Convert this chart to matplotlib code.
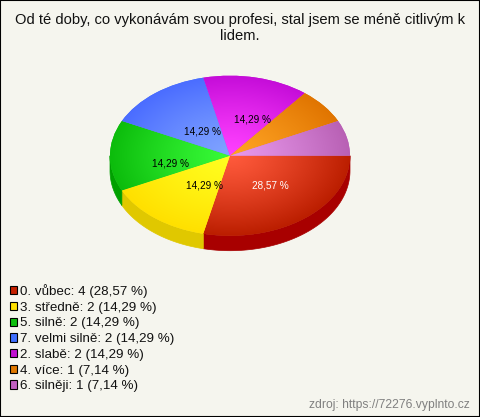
import numpy as np
import matplotlib
matplotlib.use("Agg")
import matplotlib.pyplot as plt
from matplotlib.patches import Patch, Polygon, Rectangle
from matplotlib.colors import to_rgb

title = "Od té doby, co vykonávám svou profesi, stal jsem se méně citlivým k\nlidem."
source = "zdroj: https://72276.vyplnto.cz"
categories = ["0. vůbec", "3. středně", "5. silně", "7. velmi silně", "2. slabě", "4. více", "6. silněji"]
counts = [4, 2, 2, 2, 2, 1, 1]
percent_labels = ["28,57 %", "14,29 %", "14,29 %", "14,29 %", "14,29 %", "7,14 %", "7,14 %"]
base_colors = ["#c42000", "#ffe000", "#10c010", "#4070ff", "#c010d0", "#e07800", "#c060c0"]
inner_colors = ["#ff5a3c", "#ffff20", "#38fb38", "#80a4ff", "#ff40ff", "#ffa424", "#e898ec"]
outer_colors = ["#bb1e00", "#ffe000", "#0cbc0c", "#4a6cff", "#c40cd8", "#e07400", "#b860b4"]
side_colors = ["#a80000", "#e0c800", "#00a000", "#2040c0", "#900090", "#a05000", "#904090"]
label_colors = ["white", "black", "black", "black", "black", None, None]
label_pos_px = [(270.5, 186), (204, 186), (170, 164), (203, 131.5), (253, 119), None, None]

W, H = 480, 417
CX, CY, RX, RY, DEPTH = 230, 155.7, 120, 80, 15
BG = "#f5f5ee"

fig = plt.figure(figsize=(W / 100, H / 100), dpi=100, facecolor=BG)
plt.rcParams["font.family"] = ["Liberation Sans", "DejaVu Sans"]
ax = fig.add_axes([0, 0, 1, 1])

wedges, _ = ax.pie(counts, colors=base_colors, startangle=0, counterclock=False, radius=1, center=(0, 0))
ax.set_aspect("auto")
ax.axis("off")

# side wall of the pie (front half only)
d = DEPTH / RY
fractions = np.array(counts, dtype=float) / sum(counts)
ends = np.cumsum(fractions) * 360
starts = ends - fractions * 360
for s, e, col in zip(starts, ends, side_colors):
    a, b = s, min(e, 180)
    if a >= 180:
        continue
    t = np.radians(np.linspace(a, b, 80))
    x, y = np.cos(t), -np.sin(t)
    pts = np.r_[np.c_[x, y], np.c_[x[::-1], y[::-1] - d]]
    ax.add_patch(Polygon(pts, closed=True, fc=col, ec=col, lw=0.5, zorder=0.5))

# radial shading of the top face, clipped to each wedge
gx, gy = np.meshgrid(np.linspace(-1.02, 1.02, 500), np.linspace(-1.02, 1.02, 500))
rad = (np.clip(np.hypot(gx, gy), 0, 1) ** 1.2)[..., None]
for w, ci, co in zip(wedges, inner_colors, outer_colors):
    w.set_zorder(1)
    w.set_edgecolor("none")
    img = np.array(to_rgb(ci)) * (1 - rad) + np.array(to_rgb(co)) * rad
    im = ax.imshow(img, extent=(-1.02, 1.02, -1.02, 1.02), origin="lower", aspect="auto",
                   interpolation="bilinear", zorder=1.5)
    im.set_clip_path(w)
ax.set_xlim(-CX / RX, (W - CX) / RX)
ax.set_ylim((CY - H) / RY, CY / RY)

for lab, col, pos in zip(percent_labels, label_colors, label_pos_px):
    if pos is None:
        continue
    fig.text(pos[0] / W, 1 - pos[1] / H, lab, color=col, fontsize=7.2, ha="center", va="center", zorder=5)

fig.text(240 / W, 1 - 20 / H, title.split("\n")[0], ha="center", va="center", fontsize=10.6, color="#111111")
fig.text(240 / W, 1 - 35.5 / H, title.split("\n")[1], ha="center", va="center", fontsize=10.6, color="#111111")

handles = [Patch(facecolor=c, edgecolor="black", linewidth=0.8) for c in base_colors]
labels = [f"{c}: {n} ({p})" for c, n, p in zip(categories, counts, percent_labels)]
leg = fig.legend(handles, labels, loc="upper left", bbox_to_anchor=(9.5 / W, 1 - 284 / H),
                 frameon=False, fontsize=9.6, handlelength=0.58, handleheight=0.58,
                 handletextpad=0.2, labelspacing=0.28, borderpad=0, borderaxespad=0)
for t in leg.get_texts():
    t.set_color("#111111")

fig.text(470 / W, 1 - 405 / H, source, ha="right", va="center", fontsize=8.7, color="#808080")

fig.add_artist(Rectangle((0, 0), 1, 1, transform=fig.transFigure, fill=False, ec="black", lw=1.5))
fig.savefig("out.png", dpi=100, facecolor=BG)
